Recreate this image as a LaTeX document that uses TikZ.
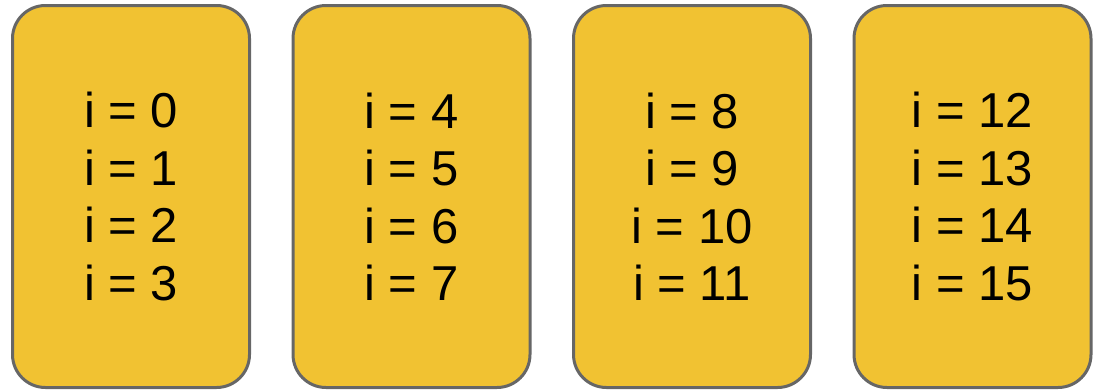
\documentclass[tikz,border=0pt]{standalone}
\usepackage{fontspec}
\setmainfont{Liberation Sans}
\definecolor{slotfill}{HTML}{F1C232}
\definecolor{slotedge}{HTML}{666666}

\begin{document}
\begin{tikzpicture}[x=1pt, y=-1pt, line join=round,
    slot/.style={draw=slotedge, line width=3pt, fill=slotfill,
      rounded corners=33pt, minimum width=237pt, minimum height=382pt,
      inner sep=0pt, align=center,
      font=\fontsize{49}{57.5}\selectfont}]

  \useasboundingbox (0,0) rectangle (1101,391);

  % four groups of indices
  \node[slot] (grpa) at (131,196.5)   {i = 0\\ i = 1\\ i = 2\\ i = 3};
  \node[slot] (grpb) at (411.5,196.5) {i = 4\\ i = 5\\ i = 6\\ i = 7};
  \node[slot] (grpc) at (692,196.5)   {i = 8\\ i = 9\\ i = 10\\ i = 11};
  \node[slot] (grpd) at (972.5,196.5) {i = 12\\ i = 13\\ i = 14\\ i = 15};

\end{tikzpicture}
\end{document}
